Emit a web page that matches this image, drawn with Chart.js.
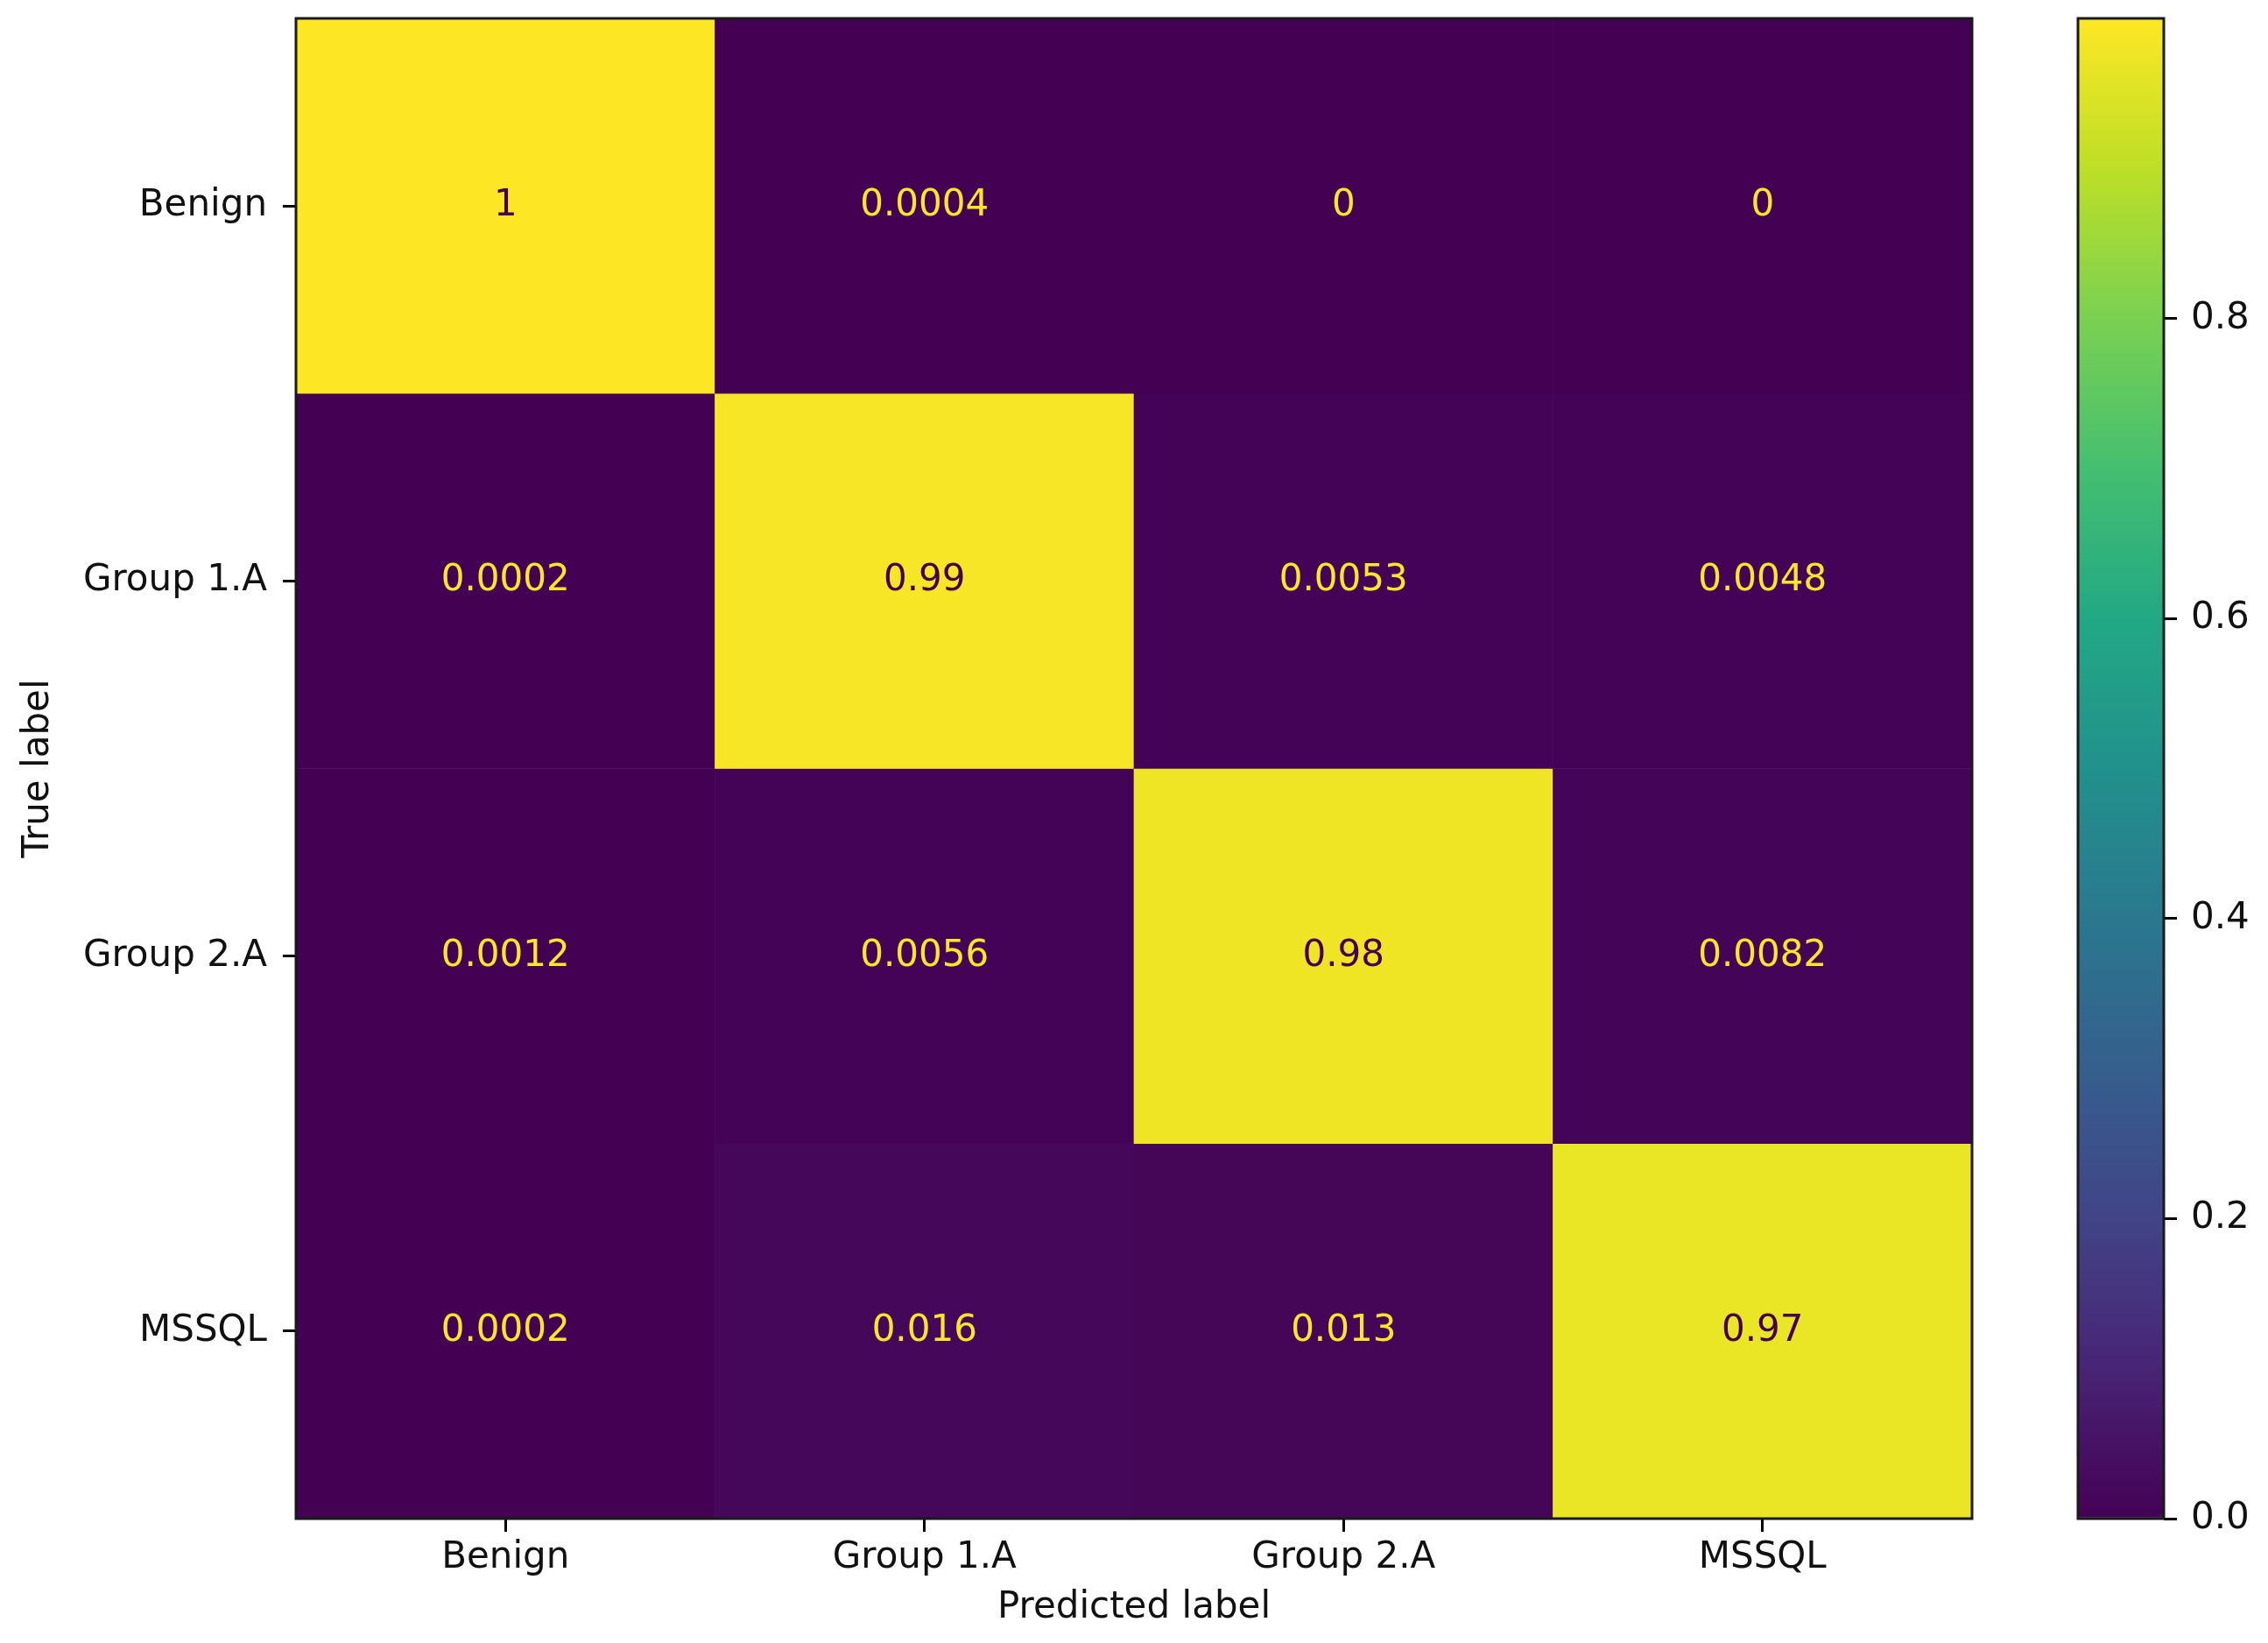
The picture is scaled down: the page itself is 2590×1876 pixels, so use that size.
<!DOCTYPE html>
<html>
<head>
    <title>Confusion Matrix</title>
    <!-- Chart.js -->
    <script src="https://cdn.jsdelivr.net/npm/chart.js"></script>
    <style>
        body { margin: 0; background: #fff; }
        #wrap { position: relative; width: 2590px; height: 1876px; }
        #matrix { position: absolute; left: 0; top: 0; }
        #colorbar { position: absolute; left: 2300px; top: 0; }
    </style>
</head>
<body>
<div id="wrap">
    <canvas id="matrix" width="2300" height="1876"></canvas>
    <canvas id="colorbar" width="290" height="1876"></canvas>
</div>

<script>
    // data
    const trueLabels = ["Benign", "Group 1.A", "Group 2.A", "MSSQL"];
    const predLabels = ["Benign", "Group 1.A", "Group 2.A", "MSSQL"];
    const benignRow = [1, 0.0004, 0, 0];
    const group1Row = [0.0002, 0.99, 0.0053, 0.0048];
    const group2Row = [0.0012, 0.0056, 0.98, 0.0082];
    const mssqlRow = [0.0002, 0.016, 0.013, 0.97];
    const colorbarTicks = [0, 0.2, 0.4, 0.6, 0.8];

    const rows = [benignRow, group1Row, group2Row, mssqlRow];

    // viridis, sampled at 0, 0.1, ... 1
    const viridisStops = ["#440154", "#482475", "#414487", "#355f8d", "#2a788e", "#21918c",
                          "#22a884", "#44bf70", "#7ad151", "#bddf26", "#fde725"];

    function viridis(t) {
        t = Math.max(0, Math.min(1, t));
        const n = viridisStops.length - 1;
        const i = Math.min(Math.floor(t * n), n - 1);
        const f = t * n - i;
        const a = viridisStops[i], b = viridisStops[i + 1];
        const out = [1, 3, 5].map(k => {
            const ca = parseInt(a.substr(k, 2), 16), cb = parseInt(b.substr(k, 2), 16);
            return Math.round(ca + (cb - ca) * f);
        });
        return "rgb(" + out.join(",") + ")";
    }

    const allValues = rows.flat();
    const vmin = Math.min(...allValues);
    const vmax = Math.max(...allValues);
    const thresh = (vmin + vmax) / 2;

    function fmt(v) {
        return String(Number(v.toPrecision(2)));
    }

    const FONT = { family: "DejaVu Sans", size: 42 };
    const INK = "#111";

    // keep the plot edges where the layout padding puts them
    function noOverflow(s) {
        s.paddingTop = 0;
        s.paddingBottom = 0;
    }

    // border round the plot area
    const frame = {
        id: "frame",
        afterDraw(chart) {
            const a = chart.chartArea;
            const ctx = chart.ctx;
            ctx.save();
            ctx.strokeStyle = "#1a1a1a";
            ctx.lineWidth = 3;
            ctx.strokeRect(a.left, a.top, a.right - a.left, a.bottom - a.top);
            ctx.restore();
        }
    };

    // numbers inside the cells
    const cellText = {
        id: "cellText",
        afterDatasetsDraw(chart) {
            const ctx = chart.ctx;
            ctx.save();
            ctx.font = FONT.size + "px '" + FONT.family + "'";
            ctx.textAlign = "center";
            ctx.textBaseline = "middle";
            chart.data.datasets.forEach((ds, i) => {
                chart.getDatasetMeta(i).data.forEach((bar, j) => {
                    const v = rows[i][j];
                    ctx.fillStyle = v > thresh ? viridis(0) : viridis(1);
                    ctx.fillText(fmt(v), bar.x, (bar.y + bar.base) / 2);
                });
            });
            ctx.restore();
        }
    };

    new Chart(document.getElementById("matrix"), {
        type: "bar",
        data: {
            labels: predLabels,
            datasets: rows.map((row, i) => ({
                label: trueLabels[i],
                data: row.map(() => [i, i + 1]),
                backgroundColor: row.map(v => viridis((v - vmin) / (vmax - vmin))),
                borderWidth: 0,
                barPercentage: 1,
                categoryPercentage: 1,
                grouped: false
            }))
        },
        options: {
            responsive: false,
            animation: false,
            layout: { padding: { left: 0, top: 21, right: 48, bottom: 0 } },
            plugins: {
                legend: { display: false },
                tooltip: { enabled: false }
            },
            scales: {
                x: {
                    type: "category",
                    offset: true,
                    afterFit: s => { s.height = 142; },
                    ticks: { color: INK, font: FONT, padding: 5 },
                    grid: { offset: false, drawOnChartArea: false, tickLength: 15, color: "#000", lineWidth: 3 },
                    border: { display: false },
                    title: { display: true, text: "Predicted label", color: INK, font: FONT, padding: { top: 0, bottom: 15 } }
                },
                y: {
                    type: "linear",
                    min: 0,
                    max: rows.length,
                    reverse: true,
                    afterBuildTicks: s => { s.ticks = trueLabels.map((_, i) => ({ value: i + 0.5 })); },
                    afterFit: s => { s.width = 338; noOverflow(s); },
                    ticks: {
                        color: INK,
                        font: FONT,
                        padding: 18,
                        callback: v => trueLabels[Math.floor(v)]
                    },
                    grid: { drawOnChartArea: false, tickLength: 15, color: "#000", lineWidth: 3 },
                    border: { display: false },
                    title: { display: true, text: "True label", color: INK, font: FONT, padding: { top: 19, bottom: 0 } }
                }
            }
        },
        plugins: [cellText, frame]
    });

    // colorbar
    new Chart(document.getElementById("colorbar"), {
        type: "bar",
        data: {
            labels: [""],
            datasets: [{
                data: [[vmin, vmax]],
                backgroundColor: context => {
                    const chart = context.chart;
                    if (!chart.chartArea) return viridisStops[0];
                    const y = chart.scales.y;
                    const g = chart.ctx.createLinearGradient(0, y.getPixelForValue(vmin), 0, y.getPixelForValue(vmax));
                    viridisStops.forEach((c, k) => g.addColorStop(k / (viridisStops.length - 1), c));
                    return g;
                },
                borderWidth: 0,
                barPercentage: 1,
                categoryPercentage: 1
            }]
        },
        options: {
            responsive: false,
            animation: false,
            layout: { padding: { left: 73, top: 21, right: 0, bottom: 142 } },
            plugins: {
                legend: { display: false },
                tooltip: { enabled: false }
            },
            scales: {
                x: { display: false },
                y: {
                    position: "right",
                    min: vmin,
                    max: vmax,
                    afterBuildTicks: s => { s.ticks = colorbarTicks.map(v => ({ value: v })); },
                    afterFit: s => { s.width = 119; noOverflow(s); },
                    ticks: { color: INK, font: FONT, padding: 16, callback: v => v.toFixed(1) },
                    grid: { drawOnChartArea: false, tickLength: 15, color: "#000", lineWidth: 3 },
                    border: { display: false }
                }
            }
        },
        plugins: [frame]
    });
</script>
</body>
</html>
